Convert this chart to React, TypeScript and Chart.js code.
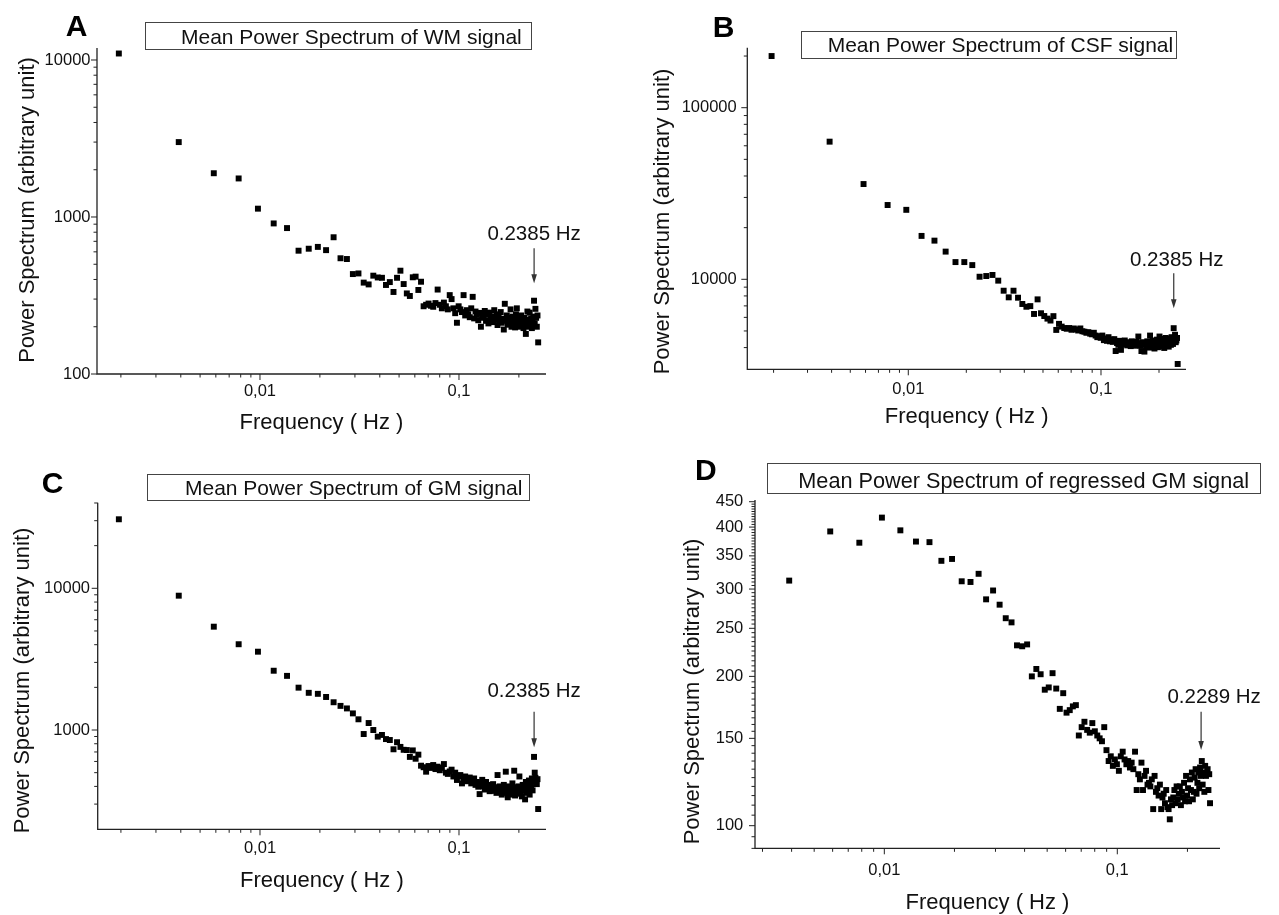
import { useEffect, useRef } from "react";
import { Chart, registerables } from "chart.js";

Chart.register(...registerables);

// Spectral resolution of the periodograms (1/512 Hz per bin)
const FREQ_BIN_HZ = 0.001953125;

// Panel A — white matter (bins 1..128)
const WM_POWER = [
  11000, 3000, 1900, 1760, 1130, 910, 850, 610, 628, 645,
  615, 743, 546, 540, 433, 437, 382, 372, 423, 412,
  410, 369, 385, 333, 410, 455, 374, 326, 314, 413,
  417, 343, 387, 270, 276, 281, 272, 268, 283, 345,
  276, 262, 285, 270, 258, 318, 300, 262, 244, 212,
  270, 258, 248, 318, 236, 255, 240, 230, 262, 310,
  226, 250, 238, 220, 245, 200, 234, 228, 252, 218,
  238, 210, 246, 226, 232, 214, 255, 222, 240, 205,
  230, 216, 248, 212, 225, 192, 280, 218, 236, 206,
  228, 214, 258, 200, 232, 212, 222, 198, 240, 262,
  210, 226, 200, 218, 236, 204, 214, 196, 228, 208,
  180, 222, 250, 200, 214, 246, 204, 226, 196, 218,
  232, 293, 210, 260, 228, 200, 236, 159,
];

// Panel B — cerebrospinal fluid (bins 1..128)
const CSF_POWER = [
  200000, 63400, 35900, 27100, 25400, 17900, 16800, 14500, 12600, 12600,
  12100, 10350, 10450, 10600, 9820, 8580, 7850, 8580, 7810, 7180,
  6920, 6980, 6280, 7640, 6340, 6110, 5900, 5750, 6100, 5070,
  5500, 5300, 5200, 5150, 5200, 5080, 5170, 5100, 5030, 5170,
  4980, 4950, 4880, 4920, 4820, 4780, 4880, 4700, 4600, 4660,
  4560, 4700, 4420, 4520, 4380, 4600, 4350, 4450, 4320, 4480,
  3820, 4250, 4150, 4380, 3880, 4300, 4180, 4400, 4220, 4120,
  4300, 4200, 4080, 4350, 4150, 4260, 4100, 4320, 4180, 4640,
  4250, 4100, 3820, 4300, 4150, 3790, 4220, 4050, 4350, 4150,
  4000, 4700, 4250, 4080, 4400, 4180, 3950, 4300, 4100, 4450,
  4020, 4250, 4640, 4150, 4050, 4380, 4200, 4500, 3980, 4300,
  4550, 4100, 4420, 4250, 4050, 4500, 4300, 4150, 4600, 4380,
  4200, 5190, 4480, 4750, 4300, 4400, 4550, 3210,
];

// Panel C — grey matter (bins 1..128)
const GM_POWER = [
  30700, 8870, 5360, 4030, 3570, 2620, 2410, 1990, 1830, 1800,
  1710, 1570, 1480, 1420, 1310, 1190, 937, 1120, 1000, 898,
  923, 863, 850, 731, 820, 760, 725, 722, 646, 718,
  627, 670, 560, 546, 508, 557, 540, 566, 530, 551,
  520, 540, 575, 500, 490, 510, 525, 470, 500, 444,
  470, 481, 420, 455, 470, 435, 450, 462, 420, 440,
  455, 410, 430, 398, 353, 420, 445, 400, 380, 430,
  395, 410, 370, 405, 390, 415, 372, 395, 360, 481,
  385, 400, 370, 350, 392, 410, 360, 508, 378, 335,
  400, 365, 385, 350, 420, 370, 516, 345, 395, 380,
  360, 400, 470, 355, 385, 340, 410, 372, 395, 324,
  430, 360, 405, 382, 440, 350, 420, 395, 455, 375,
  430, 646, 500, 460, 440, 415, 450, 277,
];

// Panel D — regressed grey matter (bins 2..128)
const REG_GM_POWER = [
  312, 392, 372, 418, 394, 374, 373, 342, 345, 311,
  310, 322, 286, 298, 279, 262, 257, 231, 230, 232,
  200, 207, 202, 188, 190, 203, 189, 172, 185, 169,
  171, 174, 175, 152, 158, 162, 156, 154, 161, 155,
  152, 150, 148, 158, 142, 135, 138, 132, 136, 133,
  129, 138, 141, 136, 133, 135, 131, 134, 130, 141,
  118, 127, 124, 134, 118, 126, 129, 121, 122, 120,
  124, 108, 126, 117, 119, 115, 121, 108, 114, 116,
  111, 118, 109, 108, 103, 113, 110, 114, 118, 111,
  120, 113, 116, 120, 110, 117, 114, 122, 112, 126,
  115, 119, 112, 124, 118, 128, 113, 117, 125, 130,
  116, 122, 128, 119, 131, 126, 135, 121, 128, 117,
  132, 126, 128, 130, 118, 127, 111,
];

// Axis ticks
const X_MAJOR_TICKS = [0.01, 0.1];
const X_MAJOR_LABELS = ["0,01", "0,1"];
const X_MINOR_TICKS = [0.002, 0.003, 0.004, 0.005, 0.006, 0.007, 0.008, 0.009, 0.02, 0.03, 0.04, 0.05, 0.06, 0.07, 0.08, 0.09, 0.2];
const X_MINOR_TICKS_D = [0.003, 0.004, 0.005, 0.006, 0.007, 0.008, 0.009, 0.02, 0.03, 0.04, 0.05, 0.06, 0.07, 0.08, 0.09, 0.2];

const A_Y_MAJOR = [100, 1000, 10000];
const A_Y_LABELS = ["100", "1000", "10000"];
const A_Y_MINOR = [200, 300, 400, 500, 600, 700, 800, 900, 2000, 3000, 4000, 5000, 6000, 7000, 8000, 9000];

const B_Y_MAJOR = [10000, 100000];
const B_Y_LABELS = ["10000", "100000"];
const B_Y_MINOR = [4000, 5000, 6000, 7000, 8000, 9000, 20000, 30000, 40000, 50000, 60000, 70000, 80000, 90000, 200000];

const C_Y_MAJOR = [1000, 10000];
const C_Y_LABELS = ["1000", "10000"];
const C_Y_MINOR = [300, 400, 500, 600, 700, 800, 900, 2000, 3000, 4000, 5000, 6000, 7000, 8000, 9000, 20000, 30000, 40000];

const D_Y_MAJOR = [100, 150, 200, 250, 300, 350, 400, 450];
const D_Y_LABELS = ["100", "150", "200", "250", "300", "350", "400", "450"];
const D_Y_MINOR = [
  90, 95, 105, 110, 115, 120, 125, 130, 135, 140, 145, 155, 160, 165, 170, 175, 180, 185, 190, 195,
  205, 210, 215, 220, 225, 230, 235, 240, 245, 255, 260, 265, 270, 275, 280, 285, 290, 295,
  305, 310, 315, 320, 325, 330, 335, 340, 345, 355, 360, 365, 370, 375, 380, 385, 390, 395,
  405, 410, 415, 420, 425, 430, 435, 440, 445,
];

const X_TITLE = "Frequency ( Hz )";
const Y_TITLE = "Power Spectrum (arbitrary unit)";

const FONT_FAMILY = '"Liberation Sans", Arial, "Helvetica Neue", sans-serif';
const INK = "#111";
const AXIS_INK = "#222";

type Rect = { left: number; top: number; right: number; bottom: number };
type Panel = {
  letter: string;
  title: string;
  titleFontSize: number;
  values: number[];
  firstBin: number;
  box: { left: number; top: number; width: number; height: number };
  plot: Rect;
  xMin: number;
  xMax: number;
  yMin: number;
  yMax: number;
  yMajor: number[];
  yLabels: string[];
  yMinor: number[];
  xMinor: number[];
  yLabelGap: number;
  xLabelOffset: number;
  xTitleOffset: number;
  yTitle: { x: number; y: number };
  letterPos: { x: number; y: number };
  titleBox: Rect & { textX: number };
  marker: { freq: number; label: string; labelValue: number; topValue: number; tipValue: number; labelDx: number };
};

const PANELS: Panel[] = [
  {
    letter: "A",
    title: "Mean Power Spectrum of WM signal",
    titleFontSize: 21,
    values: WM_POWER,
    firstBin: 1,
    box: { left: 0, top: 0, width: 640, height: 455 },
    plot: { left: 97, top: 48, right: 546, bottom: 374 },
    xMin: 0.001517, xMax: 0.2737, yMin: 100, yMax: 11924,
    yMajor: A_Y_MAJOR, yLabels: A_Y_LABELS, yMinor: A_Y_MINOR, xMinor: X_MINOR_TICKS,
    yLabelGap: 6.5, xLabelOffset: 22, xTitleOffset: 55,
    yTitle: { x: 33.7, y: 210 },
    letterPos: { x: 65.7, y: 35.7 },
    titleBox: { left: 145, top: 22.3, right: 531, bottom: 49.3, textX: 181 },
    marker: { freq: 0.2385, label: "0.2385 Hz", labelValue: 714, topValue: 632, tipValue: 378, labelDx: 0 },
  },
  {
    letter: "B",
    title: "Mean Power Spectrum of CSF signal",
    titleFontSize: 21,
    values: CSF_POWER,
    firstBin: 1,
    box: { left: 640, top: 0, width: 639, height: 455 },
    plot: { left: 747.3, top: 47.7, right: 1186, bottom: 369.3 },
    xMin: 0.001461, xMax: 0.2761, yMin: 2989, yMax: 223700,
    yMajor: B_Y_MAJOR, yLabels: B_Y_LABELS, yMinor: B_Y_MINOR, xMinor: X_MINOR_TICKS,
    yLabelGap: 10.6, xLabelOffset: 24.7, xTitleOffset: 53.7,
    yTitle: { x: 668.7, y: 221.5 },
    letterPos: { x: 712.7, y: 36.7 },
    titleBox: { left: 801, top: 31, right: 1175.7, bottom: 57.7, textX: 827.7 },
    marker: { freq: 0.2385, label: "0.2385 Hz", labelValue: 12003, topValue: 10839, tipValue: 6776, labelDx: 3 },
  },
  {
    letter: "C",
    title: "Mean Power Spectrum of GM signal",
    titleFontSize: 21,
    values: GM_POWER,
    firstBin: 1,
    box: { left: 0, top: 455, width: 640, height: 460 },
    plot: { left: 97.7, top: 502.7, right: 546, bottom: 829.3 },
    xMin: 0.001529, xMax: 0.2737, yMin: 199.2, yMax: 40190,
    yMajor: C_Y_MAJOR, yLabels: C_Y_LABELS, yMinor: C_Y_MINOR, xMinor: X_MINOR_TICKS,
    yLabelGap: 7.7, xLabelOffset: 24, xTitleOffset: 58,
    yTitle: { x: 28.7, y: 680.5 },
    letterPos: { x: 41.7, y: 492.5 },
    titleBox: { left: 146.7, top: 474, right: 529, bottom: 500, textX: 185 },
    marker: { freq: 0.2385, label: "0.2385 Hz", labelValue: 1701, topValue: 1346, tipValue: 755, labelDx: 0 },
  },
  {
    letter: "D",
    title: "Mean Power Spectrum of regressed GM signal",
    titleFontSize: 21.7,
    values: REG_GM_POWER,
    firstBin: 2,
    box: { left: 640, top: 455, width: 639, height: 460 },
    plot: { left: 755, top: 500, right: 1220, bottom: 848.3 },
    xMin: 0.002786, xMax: 0.2759, yMin: 90.03, yMax: 453.6,
    yMajor: D_Y_MAJOR, yLabels: D_Y_LABELS, yMinor: D_Y_MINOR, xMinor: X_MINOR_TICKS_D,
    yLabelGap: 11.7, xLabelOffset: 27, xTitleOffset: 60.7,
    yTitle: { x: 698.7, y: 691.5 },
    letterPos: { x: 695, y: 480 },
    titleBox: { left: 766.7, top: 463.3, right: 1259.3, bottom: 493.3, textX: 798.3 },
    marker: { freq: 0.2289, label: "0.2289 Hz", labelValue: 176.5, topValue: 169.7, tipValue: 142.1, labelDx: 13 },
  },
];

function drawAxes(chart: Chart, p: Panel) {
  const ctx = chart.ctx;
  const { left, right, top, bottom } = chart.chartArea;
  const xs = chart.scales.x;
  const ys = chart.scales.y;
  ctx.save();
  ctx.strokeStyle = AXIS_INK;
  ctx.lineWidth = 1.3;
  ctx.beginPath();
  ctx.moveTo(left, top);
  ctx.lineTo(left, bottom);
  ctx.lineTo(right, bottom);
  ctx.stroke();

  ctx.lineWidth = 1;
  ctx.beginPath();
  for (const v of p.yMajor) {
    const y = ys.getPixelForValue(v);
    ctx.moveTo(left - 6, y);
    ctx.lineTo(left, y);
  }
  for (const v of p.yMinor) {
    const y = ys.getPixelForValue(v);
    ctx.moveTo(left - 3.5, y);
    ctx.lineTo(left, y);
  }
  for (const v of X_MAJOR_TICKS) {
    const x = xs.getPixelForValue(v);
    ctx.moveTo(x, bottom);
    ctx.lineTo(x, bottom + 6);
  }
  for (const v of p.xMinor) {
    const x = xs.getPixelForValue(v);
    ctx.moveTo(x, bottom);
    ctx.lineTo(x, bottom + 3.5);
  }
  ctx.stroke();

  ctx.fillStyle = INK;
  ctx.font = `16.5px ${FONT_FAMILY}`;
  ctx.textAlign = "right";
  ctx.textBaseline = "middle";
  p.yMajor.forEach((v, i) => {
    ctx.fillText(p.yLabels[i], left - p.yLabelGap, ys.getPixelForValue(v));
  });
  ctx.textAlign = "center";
  ctx.textBaseline = "alphabetic";
  X_MAJOR_TICKS.forEach((v, i) => {
    ctx.fillText(X_MAJOR_LABELS[i], xs.getPixelForValue(v), bottom + p.xLabelOffset);
  });

  ctx.font = `22px ${FONT_FAMILY}`;
  ctx.fillText(X_TITLE, (left + right) / 2, bottom + p.xTitleOffset);
  ctx.save();
  ctx.translate(p.yTitle.x - p.box.left, p.yTitle.y - p.box.top);
  ctx.rotate(-Math.PI / 2);
  ctx.textAlign = "center";
  ctx.textBaseline = "alphabetic";
  ctx.fillText(Y_TITLE, 0, 0);
  ctx.restore();
  ctx.restore();
}

function drawDecorations(chart: Chart, p: Panel) {
  const ctx = chart.ctx;
  const xs = chart.scales.x;
  const ys = chart.scales.y;
  const ox = p.box.left;
  const oy = p.box.top;
  ctx.save();

  // Title box
  const tb = p.titleBox;
  const bl = Math.round(tb.left - ox) + 0.5;
  const bt = Math.round(tb.top - oy) + 0.5;
  const bw = Math.round(tb.right - tb.left);
  const bh = Math.round(tb.bottom - tb.top);
  ctx.fillStyle = "#fff";
  ctx.fillRect(bl, bt, bw, bh);
  ctx.strokeStyle = "#444";
  ctx.lineWidth = 1;
  ctx.strokeRect(bl, bt, bw, bh);
  ctx.fillStyle = INK;
  ctx.font = `${p.titleFontSize}px ${FONT_FAMILY}`;
  ctx.textAlign = "left";
  ctx.textBaseline = "alphabetic";
  ctx.fillText(p.title, tb.textX - ox, tb.bottom - oy - 5.5);

  // Panel letter
  ctx.font = `bold 30px ${FONT_FAMILY}`;
  ctx.fillStyle = "#000";
  ctx.fillText(p.letter, p.letterPos.x - ox, p.letterPos.y - oy);

  // Peak marker arrow
  const m = p.marker;
  const mx = xs.getPixelForValue(m.freq);
  const yTop = ys.getPixelForValue(m.topValue);
  const yTip = ys.getPixelForValue(m.tipValue);
  ctx.strokeStyle = "#333";
  ctx.lineWidth = 1.2;
  ctx.beginPath();
  ctx.moveTo(mx, yTop);
  ctx.lineTo(mx, yTip - 7);
  ctx.stroke();
  ctx.fillStyle = "#333";
  ctx.beginPath();
  ctx.moveTo(mx - 2.8, yTip - 9);
  ctx.lineTo(mx + 2.8, yTip - 9);
  ctx.lineTo(mx, yTip);
  ctx.closePath();
  ctx.fill();
  ctx.fillStyle = INK;
  ctx.font = `20.5px ${FONT_FAMILY}`;
  ctx.textAlign = "center";
  ctx.fillText(m.label, mx + m.labelDx, ys.getPixelForValue(m.labelValue));
  ctx.restore();
}

function PanelChart({ panel }: { panel: Panel }) {
  const ref = useRef<HTMLCanvasElement | null>(null);
  useEffect(() => {
    const canvas = ref.current;
    if (!canvas) return;
    const { box, plot } = panel;
    const points = panel.values.map((v, i) => ({ x: (i + panel.firstBin) * FREQ_BIN_HZ, y: v }));
    const chart = new Chart(canvas, {
      type: "scatter",
      data: {
        datasets: [
          {
            data: points,
            pointStyle: "rect",
            pointRadius: 4.2,
            pointBackgroundColor: "#000",
            pointBorderColor: "#000",
            pointBorderWidth: 0,
            backgroundColor: "#000",
            borderColor: "#000",
            showLine: false,
            clip: false,
          } as any,
        ],
      },
      options: {
        responsive: false,
        animation: false,
        devicePixelRatio: 1,
        events: [],
        layout: {
          padding: {
            left: plot.left - box.left,
            top: plot.top - box.top,
            right: box.left + box.width - plot.right,
            bottom: box.top + box.height - plot.bottom,
          },
        },
        scales: {
          x: { type: "logarithmic", display: false, min: panel.xMin, max: panel.xMax, ticks: { display: false } },
          y: { type: "logarithmic", display: false, min: panel.yMin, max: panel.yMax, ticks: { display: false } },
        },
        plugins: {
          legend: { display: false },
          tooltip: { enabled: false },
          title: { display: false },
        },
      },
      plugins: [
        {
          id: "panelDecor" + panel.letter,
          beforeDatasetsDraw(c: Chart) {
            drawAxes(c, panel);
          },
          afterDatasetsDraw(c: Chart) {
            drawDecorations(c, panel);
          },
        },
      ],
    });
    return () => chart.destroy();
  }, [panel]);

  return (
    <canvas
      ref={ref}
      width={panel.box.width}
      height={panel.box.height}
      style={{
        position: "absolute",
        left: panel.box.left,
        top: panel.box.top,
        width: panel.box.width,
        height: panel.box.height,
        display: "block",
      }}
    />
  );
}

export default function App() {
  return (
    <div
      style={{
        position: "absolute",
        left: 0,
        top: 0,
        width: 1279,
        height: 915,
        background: "#fff",
        overflow: "hidden",
      }}
    >
      {PANELS.map((p) => (
        <PanelChart key={p.letter} panel={p} />
      ))}
    </div>
  );
}
